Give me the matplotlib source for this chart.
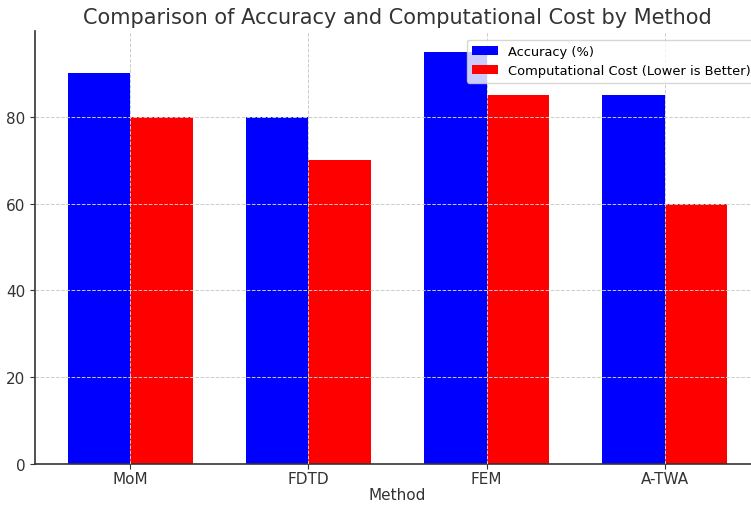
import numpy as np
import matplotlib.pyplot as plt

methods = ['MoM', 'FDTD', 'FEM', 'A-TWA']
accuracy = [90, 80, 95, 85]
comp_cost = [80, 70, 85, 60]

x = np.arange(len(methods))
width = 0.35

fig = plt.figure(figsize=(7.51, 5.06), dpi=100)
ax = fig.add_axes([35 / 751, 41 / 506, 725 / 751, 433 / 506])

ax.bar(x - width / 2, accuracy, width, color='blue', label='Accuracy (%)')
ax.bar(x + width / 2, comp_cost, width, color='red', label='Computational Cost (Lower is Better)')

ax.set_xticks(x)
ax.set_xticklabels(methods)
ax.set_xlabel('Method', fontsize=11, color='#333333', labelpad=1)
ax.set_title('Comparison of Accuracy and Computational Cost by Method', fontsize=15, color='#333333')
ax.tick_params(labelsize=11, colors='#333333')
ax.tick_params(axis='x', pad=1.5)
ax.grid(True, linestyle='--', color='#cccccc', linewidth=0.7)
ax.set_axisbelow(False)
for side in ['top', 'right']:
    ax.spines[side].set_visible(False)
for side in ['left', 'bottom']:
    ax.spines[side].set_color('#333333')
    ax.spines[side].set_linewidth(1.2)
ax.legend(loc='upper right', fontsize=9.4, bbox_to_anchor=(1.004, 0.995))

fig.savefig('out.png', dpi=100)
